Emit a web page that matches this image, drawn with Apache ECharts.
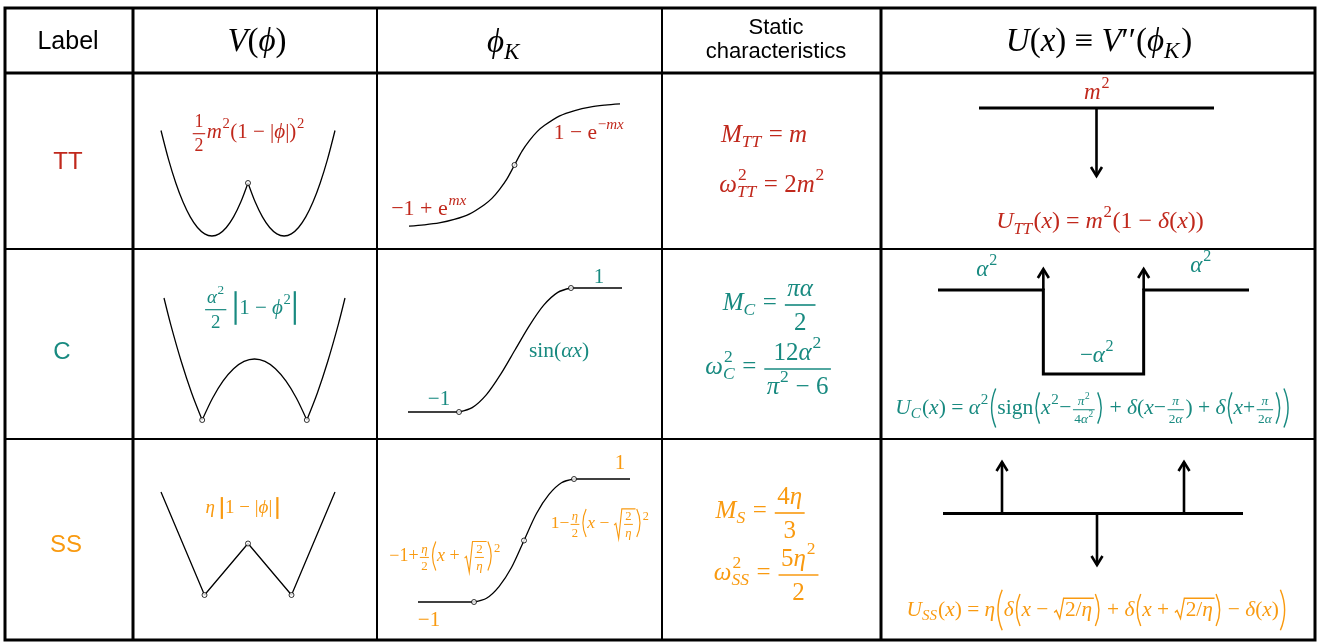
<!DOCTYPE html>
<html>
<head>
<meta charset="utf-8">
<script src="https://cdn.jsdelivr.net/npm/echarts@6/dist/echarts.min.js"></script>
<style>
  html, body { margin: 0; background: #fff; }
  #chart { width: 1325px; height: 642px; }
</style>
</head>
<body>
<div id="chart"></div>
<script>
// ---------- values ----------
// TT row
var ttPotPhiL = [-2.41, -2.2, -2.0, -1.8, -1.6, -1.4, -1.2, -1.0, -0.8, -0.6, -0.4, -0.2, 0];
var ttPotL    = [1.99, 1.44, 1.0, 0.64, 0.36, 0.16, 0.04, 0, 0.04, 0.16, 0.36, 0.64, 1.0];
var ttPotPhiR = [0, 0.2, 0.4, 0.6, 0.8, 1.0, 1.2, 1.4, 1.6, 1.8, 2.0, 2.2, 2.41];
var ttPotR    = [1.0, 0.64, 0.36, 0.16, 0.04, 0, 0.04, 0.16, 0.36, 0.64, 1.0, 1.44, 1.99];
var ttPotDotX = [0], ttPotDotY = [1];
var ttKinkX = [-3.5, -3, -2.5, -2, -1.5, -1, -0.75, -0.5, -0.25, 0, 0.25, 0.5, 0.75, 1, 1.5, 2, 2.5, 3, 3.5];
var ttKink  = [-0.97, -0.95, -0.92, -0.865, -0.78, -0.63, -0.53, -0.39, -0.22, 0, 0.22, 0.39, 0.53, 0.63, 0.78, 0.865, 0.92, 0.95, 0.97];
var ttKinkDotX = [0], ttKinkDotY = [0];
var ttUX = [-1, 1], ttU = [0, 0];
var ttDeltaX = [0], ttDeltaFrom = [0], ttDeltaTo = [-1];

// C row
var cPotPhiL = [-1.73, -1.6, -1.4, -1.2, -1.0];
var cPotL    = [2.0, 1.56, 0.96, 0.44, 0];
var cPotPhiM = [-1, -0.8, -0.6, -0.4, -0.2, 0, 0.2, 0.4, 0.6, 0.8, 1];
var cPotM    = [0, 0.36, 0.64, 0.84, 0.96, 1, 0.96, 0.84, 0.64, 0.36, 0];
var cPotPhiR = [1.0, 1.2, 1.4, 1.6, 1.73];
var cPotR    = [0, 0.44, 0.96, 1.56, 2.0];
var cPotDotX = [-1, 1], cPotDotY = [0, 0];
var cFlatLX = [-3, -1.57], cFlatL = [-1, -1];
var cSinX = [-1.57, -1.2, -0.8, -0.4, 0, 0.4, 0.8, 1.2, 1.57];
var cSin  = [-1, -0.93, -0.72, -0.39, 0, 0.39, 0.72, 0.93, 1];
var cFlatRX = [1.57, 3], cFlatR = [1, 1];
var cKinkDotX = [-1.57, 1.57], cKinkDotY = [-1, 1];
var cStepX = [-3.1, -1, -1, 1, 1, 3.1], cStep = [1, 1, -1, -1, 1, 1];
var cDeltaX = [-1, 1], cDeltaFrom = [1, 1], cDeltaTo = [1.5, 1.5];

// SS row
var ssPotPhi = [-2, -1, 0, 1, 2], ssPot = [2, 0, 1, 0, 2];
var ssPotDotX = [-1, 0, 1], ssPotDotY = [0, 1, 0];
var ssFlatLX = [-2.12, -1], ssFlatL = [-1, -1];
var ssCurveX = [-1, -0.75, -0.5, -0.25, 0, 0.25, 0.5, 0.75, 1];
var ssCurve  = [-1, -0.94, -0.75, -0.44, 0, 0.44, 0.75, 0.94, 1];
var ssFlatRX = [1, 2.12], ssFlatR = [1, 1];
var ssKinkDotX = [-1, 0, 1], ssKinkDotY = [-1, 0, 1];
var ssUX = [-3, 3], ssU = [0, 0];
var ssDeltaX = [-1.82, 0.08, 1.82], ssDeltaFrom = [0, 0, 0], ssDeltaTo = [1, -1, 1];

// ---------- look ----------
var SERIF = '"Liberation Serif","DejaVu Serif",serif';
var SANS = '"Liberation Sans",Arial,sans-serif';
var RED = '#c0281c', TEAL = '#188a80', ORANGE = '#f99a10';

var colX = [5, 133, 377, 662, 881, 1315];
var rowY = [8, 73, 249, 439, 640];

// pixel box of each little plot and its value ranges
var panels = [
  { left: 161, top: 130, width: 174, height: 106, x: [-2.41, 2.41], y: [0, 2] },
  { left: 409, top: 102, width: 211, height: 126, x: [-3.5, 3.5], y: [-1, 1] },
  { left: 979, top: 108, width: 235, height: 68, x: [-1, 1], y: [-1, 0] },
  { left: 164, top: 298, width: 181, height: 122, x: [-1.73, 1.73], y: [0, 2] },
  { left: 408, top: 288, width: 214, height: 124, x: [-3, 3], y: [-1, 1] },
  { left: 938, top: 269, width: 311, height: 105, x: [-3.1, 3.1], y: [-1, 1.5] },
  { left: 161, top: 492, width: 174, height: 103, x: [-2, 2], y: [0, 2] },
  { left: 418, top: 479, width: 212, height: 123, x: [-2.12, 2.12], y: [-1, 1] },
  { left: 943, top: 462, width: 300, height: 103, x: [-3, 3], y: [-1, 1] }
];

function zip(xs, ys) { return xs.map(function (x, i) { return [x, ys[i]]; }); }

function curve(p, xs, ys, smooth) {
  return { type: 'line', xAxisIndex: p, yAxisIndex: p, data: zip(xs, ys), showSymbol: false,
    smooth: smooth || false, clip: false, silent: true,
    lineStyle: { color: '#000', width: 1.3 } };
}
function heavy(p, xs, ys) {
  return { type: 'line', xAxisIndex: p, yAxisIndex: p, data: zip(xs, ys), showSymbol: false,
    clip: false, silent: true, lineStyle: { color: '#000', width: 3, join: 'miter' } };
}
function dots(p, xs, ys) {
  return { type: 'scatter', xAxisIndex: p, yAxisIndex: p, data: zip(xs, ys), symbol: 'circle',
    symbolSize: 5, silent: true, z: 5, itemStyle: { color: '#fff', borderColor: '#000', borderWidth: 1 } };
}
function arrows(p, xs, from, to) {
  return {
    type: 'custom', xAxisIndex: p, yAxisIndex: p, silent: true,
    data: xs.map(function (x, i) { return [x, from[i], to[i]]; }),
    encode: { x: 0, y: [1, 2] },
    renderItem: function (params, api) {
      var a = api.coord([api.value(0), api.value(1)]);
      var b = api.coord([api.value(0), api.value(2)]);
      var d = b[1] < a[1] ? -1 : 1;
      return { type: 'group', children: [
        { type: 'line', shape: { x1: a[0], y1: a[1], x2: b[0], y2: b[1] }, style: { stroke: '#000', lineWidth: 2.6 } },
        { type: 'polyline', shape: { points: [[b[0] - 5.5, b[1] - d * 9], [b[0], b[1]], [b[0] + 5.5, b[1] - d * 9]] },
          style: { stroke: '#000', lineWidth: 2.6, fill: null, lineJoin: 'miter' } }
      ] };
    }
  };
}

// ---------- tiny formula layout ----------
var ctx = document.createElement('canvas').getContext('2d');
function tw(t, sz, it) { ctx.font = (it ? 'italic ' : '') + sz + 'px ' + SERIF; return ctx.measureText(t).width; }
function txt(t, it) {
  return function (sz) {
    return { w: tw(t, sz, it), up: 0.45 * sz, dn: 0.35 * sz,
      draw: function (x, y, out, c) {
        out.push({ type: 'text', x: x, y: y, silent: true,
          style: { text: t, fontFamily: SERIF, fontSize: sz, fontStyle: it ? 'italic' : 'normal',
            fill: c, align: 'left', verticalAlign: 'middle' } });
      } };
  };
}
function I(t) { return txt(t, true); }
function R(t) { return txt(t, false); }
function list(a) { return (Array.isArray(a) ? a : [a]).map(function (v) { return typeof v === 'string' ? R(v) : v; }); }
function row(nodes) {
  return function (sz) {
    var bs = list(nodes).map(function (n) { return n(sz); });
    return {
      w: bs.reduce(function (s, b) { return s + b.w; }, 0),
      up: Math.max.apply(null, bs.map(function (b) { return b.up; })),
      dn: Math.max.apply(null, bs.map(function (b) { return b.dn; })),
      draw: function (x, y, out, c) { var cx = x; bs.forEach(function (b) { b.draw(cx, y, out, c); cx += b.w; }); }
    };
  };
}
function Sup(n) {
  return function (sz) {
    var b = row(n)(sz * 0.7);
    return { w: b.w + 0.05 * sz, up: 0.38 * sz + 0.8 * b.up, dn: 0,
      draw: function (x, y, o, c) { b.draw(x + 0.03 * sz, y - 0.38 * sz, o, c); } };
  };
}
function Sub(n) {
  return function (sz) {
    var b = row(n)(sz * 0.7);
    return { w: b.w + 0.05 * sz, up: 0, dn: 0.3 * sz + b.dn,
      draw: function (x, y, o, c) { b.draw(x, y + 0.3 * sz, o, c); } };
  };
}
function SS(p, q) {
  return function (sz) {
    var a = row(p)(sz * 0.7), b = row(q)(sz * 0.7);
    return { w: Math.max(a.w, b.w) + 0.05 * sz, up: 0.4 * sz + a.up, dn: 0.3 * sz + b.dn,
      draw: function (x, y, o, c) { a.draw(x + 0.04 * sz, y - 0.4 * sz, o, c); b.draw(x, y + 0.3 * sz, o, c); } };
  };
}
function Fr(p, q, k) {
  return function (sz) {
    var s = sz * (k || 1), a = row(p)(s), b = row(q)(s);
    var w = Math.max(a.w, b.w) + 0.2 * s, ax = 0.08 * sz, pad = 0.07 * sz;
    var nu = Math.max(0.64 * s, 0.1 * s + a.dn), de = Math.max(0.72 * s, 0.1 * s + b.up);
    return { w: w + 2 * pad, up: nu + a.up - ax, dn: ax + de + b.dn,
      draw: function (x, y, o, c) {
        var by = y + ax;
        o.push({ type: 'line', silent: true, shape: { x1: x + pad, y1: by, x2: x + pad + w, y2: by },
          style: { stroke: c, lineWidth: Math.max(1, s * 0.065) } });
        a.draw(x + pad + (w - a.w) / 2, by - nu, o, c);
        b.draw(x + pad + (w - b.w) / 2, by + de, o, c);
      } };
  };
}
function P(open, k) {
  return function (sz) {
    var h = k * sz, bulge = 0.08 * h + 1, w = bulge + 0.2 * sz;
    return { w: w, up: h / 2, dn: h / 2,
      draw: function (x, y, o, c) {
        var x1 = open ? x + w - 0.07 * sz : x + 0.07 * sz;
        var cp = open ? x1 - 2 * bulge : x1 + 2 * bulge;
        o.push({ type: 'bezierCurve', silent: true,
          shape: { x1: x1, y1: y - h / 2, x2: x1, y2: y + h / 2, cpx1: cp, cpy1: y },
          style: { stroke: c, fill: null, lineWidth: Math.max(1, sz / 15) } });
      } };
  };
}
function Vb(k) {
  return function (sz) {
    var h = k * sz;
    return { w: 0.34 * sz, up: h / 2, dn: h / 2,
      draw: function (x, y, o, c) {
        o.push({ type: 'line', silent: true, shape: { x1: x + 0.17 * sz, y1: y - h / 2, x2: x + 0.17 * sz, y2: y + h / 2 },
          style: { stroke: c, lineWidth: 2.2 } });
      } };
  };
}
function Sq(n) {
  return function (sz) {
    var b = row(n)(sz), top = b.up + 0.1 * sz, bot = b.dn + 0.05 * sz;
    return { w: 0.5 * sz + b.w + 0.1 * sz, up: top + 0.05 * sz, dn: bot,
      draw: function (x, y, o, c) {
        o.push({ type: 'polyline', silent: true,
          shape: { points: [[x + 0.02 * sz, y + 0.12 * sz], [x + 0.12 * sz, y + 0.02 * sz], [x + 0.28 * sz, y + bot],
            [x + 0.46 * sz, y - top], [x + 0.56 * sz + b.w + 0.04 * sz, y - top]] },
          style: { stroke: c, fill: null, lineWidth: Math.max(1, sz / 16) } });
        b.draw(x + 0.52 * sz, y, o, c);
      } };
  };
}
function Sp(k) { return function (sz) { return { w: k * sz, up: 0, dn: 0, draw: function () {} }; }; }

var gfx = [];
function put(nodes, sz, cx, cy, color) {
  var b = row(nodes)(sz);
  b.draw(cx - b.w / 2, cy, gfx, color);
}
function sans(t, sz, cx, cy, color) {
  gfx.push({ type: 'text', x: cx, y: cy, silent: true,
    style: { text: t, fontFamily: SANS, fontSize: sz, fill: color, align: 'center', verticalAlign: 'middle' } });
}

// table rules
gfx.push({ type: 'rect', silent: true, shape: { x: colX[0], y: rowY[0], width: colX[5] - colX[0], height: rowY[4] - rowY[0] },
  style: { stroke: '#000', fill: null, lineWidth: 3 } });
colX.slice(1, 5).forEach(function (x, i) {
  gfx.push({ type: 'line', silent: true, shape: { x1: x, y1: rowY[0], x2: x, y2: rowY[4] },
    style: { stroke: '#000', lineWidth: i === 0 || i === 3 ? 3 : 2 } });
});
rowY.slice(1, 4).forEach(function (y, i) {
  gfx.push({ type: 'line', silent: true, shape: { x1: colX[0], y1: y, x2: colX[5], y2: y },
    style: { stroke: '#000', lineWidth: i === 0 ? 3 : 2 } });
});

// header
sans('Label', 25, 68, 42, '#000');
put([I('V'), R('('), I('ϕ'), R(')')], 33, 257, 42, '#000');
put([I('ϕ'), Sub(I('K'))], 33, 504, 43, '#000');
sans('Static', 22, 776, 28, '#000');
sans('characteristics', 22, 776, 52, '#000');
put([I('U'), R('('), I('x'), R(') ≡ '), I('V'), R('′′('), I('ϕ'), Sub(I('K')), R(')')], 33, 1099, 42, '#000');

// row labels
sans('TT', 24, 68, 162, RED);
sans('C', 24, 62, 352, TEAL);
sans('SS', 24, 66, 545, ORANGE);

// TT formulas
put([Fr(['1'], ['2'], 0.85), I('m'), Sup('2'), R('(1 − |'), I('ϕ'), R('|)'), Sup('2')], 21, 248, 132, RED);
put([R('−1 + e'), Sup(I('mx'))], 22, 429, 209, RED);
put([R('1 − e'), Sup([R('−'), I('mx')])], 21.5, 589, 133, RED);
put([I('M'), Sub(I('TT')), R(' = '), I('m')], 25, 764, 135, RED);
put([I('ω'), SS('2', I('TT')), R(' = 2'), I('m'), Sup('2')], 25, 772, 185, RED);
put([I('m'), Sup('2')], 23, 1097, 93, RED);
put([I('U'), Sub(I('TT')), R('('), I('x'), R(') = '), I('m'), Sup('2'), R('(1 − '), I('δ'), R('('), I('x'), R('))')], 24, 1100, 222, RED);

// C formulas
put([Fr([I('α'), Sup('2')], ['2'], 0.9), Sp(0.2), Vb(1.6), R('1 − '), I('ϕ'), Sup('2'), Vb(1.6)], 21, 251, 308, TEAL);
put([R('−1')], 21, 439, 399, TEAL);
put([R('1')], 21, 599, 277, TEAL);
put([R('sin('), I('αx'), R(')')], 21.5, 559, 351, TEAL);
put([I('M'), Sub(I('C')), R(' = '), Fr([I('πα')], ['2'])], 25, 770, 303, TEAL);
put([I('ω'), SS('2', I('C')), R(' = '), Fr(['12', I('α'), Sup('2')], [I('π'), Sup('2'), R(' − 6')])], 25, 769, 367, TEAL);
put([I('α'), Sup('2')], 23, 987, 270, TEAL);
put([I('α'), Sup('2')], 23, 1201, 266, TEAL);
put([R('−'), I('α'), Sup('2')], 23, 1097, 356, TEAL);
put([I('U'), Sub(I('C')), R('('), I('x'), R(') = '), I('α'), Sup('2'), P(true, 1.8), R('sign'), P(true, 1.45), I('x'), Sup('2'), R('−'),
     Fr([I('π'), Sup('2')], ['4', I('α'), Sup('2')], 0.62), P(false, 1.45), R(' + '), I('δ'), R('('), I('x'), R('−'),
     Fr([I('π')], ['2', I('α')], 0.62), R(')'), R(' + '), I('δ'), P(true, 1.45), I('x'), R('+'),
     Fr([I('π')], ['2', I('α')], 0.62), P(false, 1.45), P(false, 1.8)], 21.6, 1093, 408, TEAL);

// SS formulas
put([I('η'), Sp(0.2), Vb(1.15), R('1 − |'), I('ϕ'), R('|'), Sp(0.1), Vb(1.15)], 19, 243, 508, ORANGE);
put([R('−1')], 21, 429, 620, ORANGE);
put([R('1')], 21, 620, 463, ORANGE);
put([R('−1+'), Fr([I('η')], ['2'], 0.72), P(true, 1.6), I('x'), R(' + '), Sq([Fr(['2'], [I('η')], 0.72)]), P(false, 1.6), Sup('2')],
    18, 445, 556, ORANGE);
put([R('1−'), Fr([I('η')], ['2'], 0.72), P(true, 1.6), I('x'), R(' − '), Sq([Fr(['2'], [I('η')], 0.72)]), P(false, 1.6), Sup('2')],
    17.5, 600, 523, ORANGE);
put([I('M'), Sub(I('S')), R(' = '), Fr(['4', I('η')], ['3'])], 25, 761, 511, ORANGE);
put([I('ω'), SS('2', I('SS')), R(' = '), Fr(['5', I('η'), Sup('2')], ['2'])], 25, 767, 573, ORANGE);
put([I('U'), Sub(I('SS')), R('('), I('x'), R(') = '), I('η'), P(true, 1.9), I('δ'), P(true, 1.5), I('x'), R(' − '), Sq([R('2/'), I('η')]),
     P(false, 1.5), R(' + '), I('δ'), P(true, 1.5), I('x'), R(' + '), Sq([R('2/'), I('η')]), P(false, 1.5), R(' − '), I('δ'), R('('),
     I('x'), R(')'), P(false, 1.9)], 21.4, 1097, 610, ORANGE);

// ---------- chart ----------
var option = {
  animation: false,
  backgroundColor: '#fff',
  grid: panels.map(function (p) {
    return { left: p.left, top: p.top, width: p.width, height: p.height, outerBoundsMode: 'none', show: false };
  }),
  xAxis: panels.map(function (p, i) {
    return { type: 'value', gridIndex: i, min: p.x[0], max: p.x[1], show: false };
  }),
  yAxis: panels.map(function (p, i) {
    return { type: 'value', gridIndex: i, min: p.y[0], max: p.y[1], show: false };
  }),
  series: [
    curve(0, ttPotPhiL, ttPotL, 0.3), curve(0, ttPotPhiR, ttPotR, 0.3), dots(0, ttPotDotX, ttPotDotY),
    curve(1, ttKinkX, ttKink, 0.3), dots(1, ttKinkDotX, ttKinkDotY),
    heavy(2, ttUX, ttU), arrows(2, ttDeltaX, ttDeltaFrom, ttDeltaTo),
    curve(3, cPotPhiL, cPotL, 0.3), curve(3, cPotPhiM, cPotM, 0.3), curve(3, cPotPhiR, cPotR, 0.3), dots(3, cPotDotX, cPotDotY),
    curve(4, cFlatLX, cFlatL), curve(4, cSinX, cSin, 0.3), curve(4, cFlatRX, cFlatR), dots(4, cKinkDotX, cKinkDotY),
    heavy(5, cStepX, cStep), arrows(5, cDeltaX, cDeltaFrom, cDeltaTo),
    curve(6, ssPotPhi, ssPot), dots(6, ssPotDotX, ssPotDotY),
    curve(7, ssFlatLX, ssFlatL), curve(7, ssCurveX, ssCurve, 0.3), curve(7, ssFlatRX, ssFlatR), dots(7, ssKinkDotX, ssKinkDotY),
    heavy(8, ssUX, ssU), arrows(8, ssDeltaX, ssDeltaFrom, ssDeltaTo)
  ],
  graphic: { elements: gfx }
};

var chart = echarts.init(document.getElementById('chart'));
chart.setOption(option);
</script>
</body>
</html>
